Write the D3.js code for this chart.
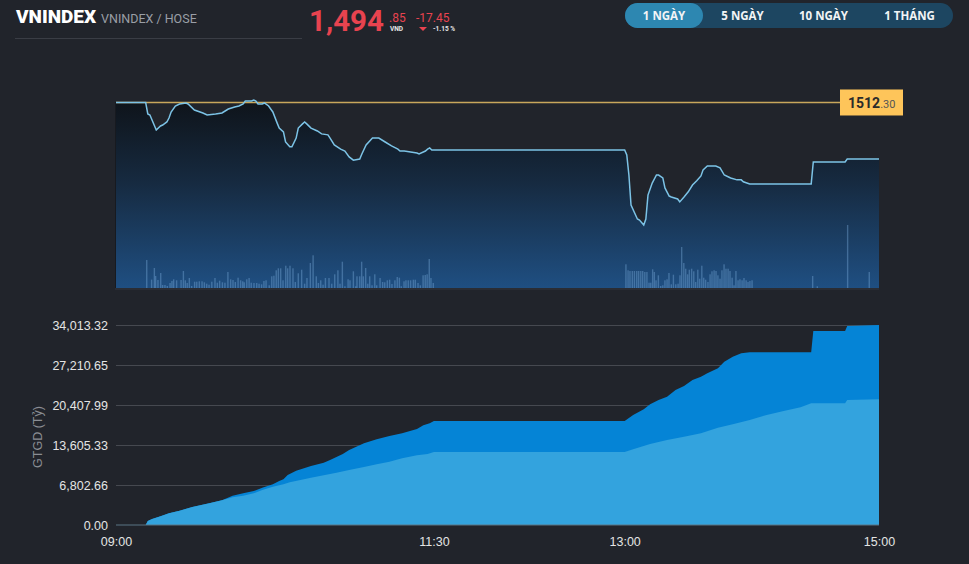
<!DOCTYPE html>
<html><head><meta charset="utf-8">
<script src="https://cdn.jsdelivr.net/npm/d3@7"></script>
<style>
html,body{margin:0;padding:0;background:#21242b;}
svg{display:block}
</style></head><body>
<svg id="c" width="969" height="564"></svg>
<script>
// ---------- DATA ----------
const indexName = "VNINDEX";
const exchange = "VNINDEX / HOSE";
const refPrice = 1512.30;
const lastPrice = 1494.85;
const change = -17.45;
const changePct = -1.15;
const periodButtons = ["1 NGÀY", "5 NGÀY", "10 NGÀY", "1 THÁNG"];
const xTickTimes = ["09:00", "11:30", "13:00", "15:00"];
const yTickValues = [0, 6802.66, 13605.33, 20407.99, 27210.65, 34013.32];
const yAxisTitle = "GTGD (Tỷ)";

const priceTimes = ["09:00","09:14","09:15","09:16","09:19","09:21","09:22","09:24","09:25","09:26","09:28","09:30","09:33","09:34","09:37","09:41","09:43","09:47","09:50","09:53","09:56","09:58","10:00","10:01","10:04","10:05","10:06","10:07","10:09","10:10","10:12","10:14","10:16","10:17","10:19","10:20","10:22","10:23","10:25","10:26","10:28","10:29","10:30","10:32","10:35","10:37","10:40","10:41","10:43","10:46","10:48","10:50","10:52","10:55","10:56","10:58","11:01","11:04","11:07","11:10","11:13","11:14","11:16","11:19","11:22","11:23","11:26","11:27","11:28","11:29","11:30","13:00","13:01","13:02","13:03","13:06","13:07","13:09","13:10","13:11","13:13","13:15","13:16","13:18","13:19","13:21","13:22","13:25","13:26","13:28","13:30","13:32","13:34","13:36","13:37","13:39","13:43","13:45","13:47","13:50","13:53","13:55","13:56","13:59","14:28","14:29","14:44","14:45","15:00"];
const priceValues = [1512.30,1512.30,1508.75,1508.44,1503.81,1505.04,1505.35,1506.28,1507.51,1509.37,1511.22,1511.84,1512.15,1511.84,1509.98,1509.06,1508.44,1508.75,1509.06,1510.29,1510.91,1511.22,1511.84,1512.76,1512.76,1513.07,1512.76,1511.84,1511.84,1512.15,1511.22,1509.37,1506.00,1504.40,1503.20,1500.10,1498.60,1498.60,1501.30,1504.40,1505.70,1506.30,1505.70,1504.40,1503.50,1502.60,1502.30,1501.30,1499.20,1497.90,1497.30,1495.50,1494.50,1494.85,1496.40,1499.20,1501.30,1501.30,1500.10,1498.90,1497.90,1497.30,1497.30,1497.00,1496.70,1496.40,1497.30,1497.90,1498.25,1497.63,1497.63,1497.63,1496.10,1489.90,1480.60,1476.30,1476.00,1474.47,1476.30,1483.70,1487.40,1489.90,1489.90,1488.99,1485.90,1483.40,1483.10,1482.50,1481.60,1483.10,1484.70,1486.80,1488.10,1489.60,1491.50,1492.70,1492.70,1492.10,1489.90,1489.00,1488.40,1488.40,1487.80,1487.13,1487.13,1493.93,1493.93,1494.85,1494.85];

// minutes after 09:00 and volume (thousand shares)
const volMinutes = [14.5,16.8,18.1,18.7,19.8,21.1,22.0,23.1,24.2,25.5,26.4,27.2,28.6,30.7,31.8,32.7,33.6,34.6,35.7,37.1,38.1,39.3,40.6,41.7,42.8,43.9,45.2,46.7,47.8,48.9,50.2,51.4,52.8,54.1,55.2,56.3,57.6,58.8,59.8,60.5,61.7,62.8,63.8,65.1,66.4,67.5,68.7,69.8,70.8,72.3,73.5,74.5,75.6,76.6,77.7,78.8,80.1,81.0,82.1,83.5,84.6,86.0,87.6,89.0,90.1,91.7,93.0,94.5,95.5,96.6,97.7,98.8,100.5,101.8,103.2,104.7,105.7,106.8,108.0,109.5,110.4,112.0,113.1,113.7,115.0,115.9,116.7,117.8,118.8,119.7,120.8,122.1,123.0,124.6,125.8,126.8,128.0,129.1,130.2,131.6,132.7,133.7,134.6,135.9,136.8,137.9,139.0,140.3,141.2,142.5,143.6,144.9,145.9,146.8,147.8,148.6,149.7,
240.6,241.6,242.5,243.6,244.6,245.7,246.6,247.6,248.5,249.5,250.5,251.5,252.3,253.2,254.0,254.8,255.9,257.0,258.0,259.0,260.0,260.9,262.0,263.0,264.1,265.2,266.1,266.9,267.9,268.8,269.7,270.5,271.6,272.6,273.5,274.5,275.4,276.4,277.3,278.2,279.3,280.3,281.2,282.2,283.1,284.0,285.0,285.9,286.9,287.8,288.8,289.7,290.7,291.6,292.5,293.5,294.4,295.4,296.3,297.3,298.2,299.1,300.1,328.7,330.9,345.2,355.4];
const volValues = [280,84,200,120,80,150,30,30,20,50,70,87,77,80,170,77,50,100,20,63,63,67,67,57,43,33,63,100,53,73,57,53,160,87,80,60,103,77,67,57,87,100,53,50,50,43,37,70,77,27,117,123,177,197,197,77,223,197,223,197,60,147,183,43,100,250,327,117,50,77,33,100,100,43,137,177,43,263,17,87,77,167,17,117,117,263,117,200,43,117,27,137,27,100,60,57,77,83,40,77,110,103,17,67,77,77,77,83,83,50,27,127,130,137,290,100,50,
237,177,170,170,170,170,170,170,170,160,160,53,53,187,160,77,127,20,27,77,87,150,37,133,37,43,127,410,250,193,137,183,193,167,60,183,93,223,103,83,60,137,167,177,170,127,93,177,237,193,193,170,103,27,170,77,87,77,100,77,60,70,77,120,17,630,160];

// cumulative trading value (billion VND)
const totalTimes = ["09:00","09:14","09:15","09:17","09:21","09:25","09:30","09:36","09:44","09:50","09:55","10:00","10:05","10:09","10:14","10:17","10:19","10:21","10:25","10:32","10:38","10:41","10:47","10:50","10:57","11:03","11:09","11:15","11:22","11:25","11:28","11:30","13:00","13:04","13:09","13:12","13:16","13:20","13:24","13:28","13:32","13:36","13:39","13:44","13:47","13:51","13:55","13:59","14:28","14:29","14:44","14:45","15:00"];
const totalValues = [0,0,680,1020,1480,1990,2430,3060,3690,4200,4980,5390,5780,6340,6920,7480,7770,8500,9230,10030,10600,11050,12080,12760,13890,14580,15140,15600,16330,16960,17300,17690,17690,18710,19680,20530,21260,21820,22960,23640,24660,25220,25800,26650,27770,28620,29200,29370,29370,32990,32990,33840,34013.32];
const matchedTimes = ["09:00","09:14","09:15","09:17","09:21","09:25","09:30","09:36","09:44","09:50","09:55","10:00","10:05","10:09","10:14","10:19","10:22","10:27","10:32","10:38","10:44","10:50","10:57","11:03","11:09","11:15","11:22","11:27","11:30","13:00","13:04","13:12","13:20","13:28","13:36","13:44","13:51","13:59","14:07","14:15","14:23","14:28","14:44","14:45","15:00"];
const matchedValues = [0,0,680,1020,1480,1990,2430,3060,3690,4200,4710,4980,5390,5950,6510,6920,7260,7650,8040,8450,8890,9350,9860,10320,10770,11340,11850,12070,12420,12420,12870,13780,14460,15020,15600,16550,17130,17860,18710,19390,20020,20700,20700,21260,21380];

// ---------- HELPERS ----------
const toMin = t => { const [h, m] = t.split(":").map(Number); return h * 60 + m - 540; };
const svg = d3.select("#c");

const x = d3.scaleLinear().domain([toMin("09:00"), toMin("15:00")]).range([116, 879]);

// ---------- HEADER ----------
svg.append("text").attr("x", 16).attr("y", 23).text(indexName)
  .attr("font-family", "Roboto, sans-serif").attr("font-weight", 900).attr("font-size", 19).attr("fill", "#ffffff");
svg.append("text").attr("x", 101).attr("y", 23).text(exchange)
  .attr("font-family", "Roboto, sans-serif").attr("font-size", 12.5).attr("fill", "#9a9ea6");
svg.append("line").attr("x1", 15).attr("x2", 302).attr("y1", 38.5).attr("y2", 38.5).attr("stroke", "#3a3d45");

const red = "#e8434f";
const ip = Math.floor(lastPrice), dp = (lastPrice - ip).toFixed(2).slice(1);
svg.append("text").attr("x", 309).attr("y", 31).text(d3.format(",")(ip))
  .attr("font-family", "Roboto, sans-serif").attr("font-weight", 700).attr("font-size", 29.5).attr("fill", red);
svg.append("text").attr("x", 389).attr("y", 22).text(dp)
  .attr("font-family", "Roboto, sans-serif").attr("font-size", 12).attr("fill", red);
svg.append("text").attr("x", 390).attr("y", 31).text("VND")
  .attr("font-family", "Roboto, sans-serif").attr("font-weight", 700).attr("font-size", 6.5).attr("fill", "#e6e6e6");
svg.append("text").attr("x", 416).attr("y", 22).text(change.toFixed(2))
  .attr("font-family", "Roboto, sans-serif").attr("font-size", 12).attr("fill", red);
svg.append("path").attr("d", "M419,27 L427,27 L423,31 Z").attr("fill", red);
svg.append("text").attr("x", 433).attr("y", 31).text(changePct.toFixed(2) + " %")
  .attr("font-family", "Roboto, sans-serif").attr("font-weight", 700).attr("font-size", 6.5).attr("fill", "#e6e6e6");

// period buttons
svg.append("rect").attr("x", 625).attr("y", 3).attr("width", 328).attr("height", 25).attr("rx", 12.5).attr("fill", "#1d4661");
svg.append("rect").attr("x", 625).attr("y", 3).attr("width", 78).attr("height", 25).attr("rx", 12.5).attr("fill", "#2d87b1");
const btnCenters = [664, 742.5, 823.5, 909.5];
periodButtons.forEach((b, i) => {
  svg.append("text").attr("x", btnCenters[i]).attr("y", 19.5).attr("text-anchor", "middle").text(b)
    .attr("font-family", "'Open Sans', sans-serif").attr("font-weight", 700).attr("font-size", 11.5).attr("fill", "#f2f4f6");
});

// ---------- TOP PRICE CHART ----------
const yP = d3.scaleLinear().domain([1455, 1515.54]).range([288, 92]);
const yV = d3.scaleLinear().domain([0, 1960]).range([288, 92]);

const defs = svg.append("defs");
const g = defs.append("linearGradient").attr("id", "pg").attr("gradientUnits", "userSpaceOnUse")
  .attr("x1", 0).attr("x2", 0).attr("y1", 95).attr("y2", 288);
g.append("stop").attr("offset", "0%").attr("stop-color", "#0e1217");
g.append("stop").attr("offset", "45%").attr("stop-color", "#162a40");
g.append("stop").attr("offset", "100%").attr("stop-color", "#1f4f82");

const pdata = priceTimes.map((t, i) => ({ m: toMin(t), v: priceValues[i] }));
svg.append("path").datum(pdata)
  .attr("d", d3.area().x(d => x(d.m)).y0(288).y1(d => yP(d.v)))
  .attr("fill", "url(#pg)");

// volume bars
svg.append("g").selectAll("rect").data(volMinutes.map((m, i) => ({ m, v: volValues[i] })))
  .join("rect")
  .attr("x", d => x(d.m) - 0.7).attr("width", 1.4)
  .attr("y", d => yV(d.v)).attr("height", d => 288 - yV(d.v))
  .attr("fill", "#80b2e2").attr("fill-opacity", 0.38);

// left edge and bottom line
svg.append("line").attr("x1", 115.5).attr("x2", 115.5).attr("y1", 102).attr("y2", 289).attr("stroke", "#171a20");
svg.append("line").attr("x1", 115).attr("x2", 879).attr("y1", 289).attr("y2", 289).attr("stroke", "#2a2d35").attr("stroke-width", 2);

// reference line
svg.append("line").attr("x1", 116).attr("x2", 840).attr("y1", yP(refPrice)).attr("y2", yP(refPrice))
  .attr("stroke", "#c9a75c").attr("stroke-width", 1.6);

// price line
svg.append("path").datum(pdata)
  .attr("d", d3.line().x(d => x(d.m)).y(d => yP(d.v)))
  .attr("fill", "none").attr("stroke", "#7cc3e6").attr("stroke-width", 1.5);

// reference label
const ry = yP(refPrice);
svg.append("rect").attr("x", 840).attr("y", ry - 13).attr("width", 63).attr("height", 26).attr("fill", "#fec55a");
const lbl = svg.append("text").attr("x", 848).attr("y", ry + 5.5)
  .attr("font-family", "Roboto, sans-serif").attr("fill", "#2b2b2b");
lbl.append("tspan").attr("font-size", 14).attr("font-weight", 700).text(Math.floor(refPrice));
lbl.append("tspan").attr("font-size", 11).attr("fill", "#555").text(refPrice.toFixed(2).slice(-3));

// ---------- BOTTOM GTGD CHART ----------
const yG = d3.scaleLinear().domain([0, 34013.32]).range([525, 325]);

// gridlines
svg.append("g").selectAll("line").data(yTickValues.slice(1)).join("line")
  .attr("x1", 116).attr("x2", 879).attr("y1", d => yG(d) + 0.5).attr("y2", d => yG(d) + 0.5)
  .attr("stroke", "#464950").attr("stroke-width", 1);

const tdata = totalTimes.map((t, i) => ({ m: toMin(t), v: totalValues[i] }));
const mdata = matchedTimes.map((t, i) => ({ m: toMin(t), v: matchedValues[i] }));
const ar = d3.area().x(d => x(d.m)).y0(525).y1(d => yG(d.v));
svg.append("path").datum(tdata).attr("d", ar).attr("fill", "#0584d6");
svg.append("path").datum(mdata).attr("d", ar).attr("fill", "#33a3de");

// baseline
svg.append("line").attr("x1", 116).attr("x2", 879).attr("y1", 525).attr("y2", 525)
  .attr("stroke", "#5b7485").attr("stroke-width", 1);

// y axis
const yAxis = d3.axisLeft(yG).tickValues(yTickValues).tickSize(0).tickPadding(8)
  .tickFormat(d3.format(",.2f"));
const ya = svg.append("g").attr("transform", "translate(116,0)").call(yAxis);
ya.select(".domain").remove();
ya.selectAll("text").attr("font-family", "'Liberation Sans', Arial, sans-serif").attr("font-size", 12.5)
  .attr("fill", "#e4e4e4");

svg.append("text").attr("transform", "translate(42,437) rotate(-90)").attr("text-anchor", "middle")
  .text(yAxisTitle).attr("font-family", "'Liberation Sans', Arial, sans-serif").attr("font-size", 12.5).attr("fill", "#8a8d93");

// x axis
const xAxis = d3.axisBottom(x).tickValues(xTickTimes.map(toMin)).tickSize(0).tickPadding(12)
  .tickFormat((d, i) => xTickTimes[i]);
const xa = svg.append("g").attr("transform", "translate(0,525)").call(xAxis);
xa.select(".domain").remove();
xa.selectAll("text").attr("font-family", "'Liberation Sans', Arial, sans-serif").attr("font-size", 12.5)
  .attr("fill", "#e4e4e4");
</script>
</body></html>
